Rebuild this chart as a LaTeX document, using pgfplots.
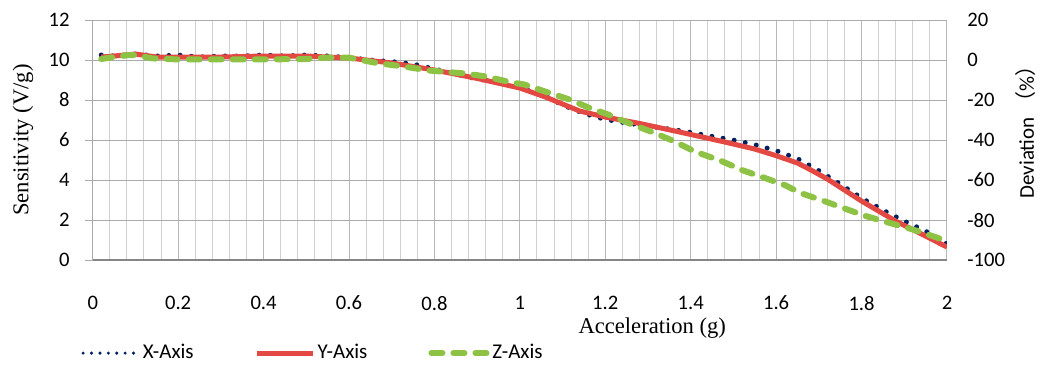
\documentclass[border=0pt]{standalone}
\usepackage{fontspec}
\setmainfont{Carlito}
\newfontfamily\seriffont{Liberation Serif}
\newfontfamily\cjk{Noto Sans CJK SC}
\usepackage{pgfplots}
\pgfplotsset{compat=1.18}
\definecolor{xnavy}{RGB}{0,32,96}
\definecolor{yred}{RGB}{228,72,66}
\definecolor{zgreen}{RGB}{141,194,68}
\definecolor{hgrid}{RGB}{170,170,170}
\definecolor{vgridmaj}{RGB}{185,185,185}
\definecolor{vgridmin}{RGB}{208,208,208}
\definecolor{axgray}{RGB}{134,134,134}
\begin{document}
\begin{tikzpicture}
\begin{axis}[name=ax, scale only axis, width=427pt, height=120pt,
  xmin=0, xmax=2, ymin=0, ymax=12,
  xtick={0,0.2,0.4,0.6,0.8,1,1.2,1.4,1.6,1.8,2},
  minor x tick num=4,
  ytick={0,2,4,6,8,10,12},
  axis lines*=left,
  x axis line style={draw=axgray, line width=0.6pt},
  y axis line style={draw=hgrid, line width=0.5pt},
  xmajorgrids, xminorgrids, ymajorgrids,
  major grid style={draw=vgridmaj, line width=0.5pt},
  minor grid style={draw=vgridmin, line width=0.5pt},
  y grid style={draw=hgrid, line width=0.5pt},
  xtick style={draw=none},
  minor tick style={draw=none},
  ytick style={draw=hgrid, line width=0.5pt},
  tick align=outside, major tick length=4pt,
  /pgf/number format/assume math mode=true,
  ticklabel style={font=\fontsize{10.3}{12}\selectfont},
  xticklabel style={anchor=center, inner sep=0pt, yshift=-17.5pt},
  yticklabel style={anchor=east, inner sep=0pt, xshift=-7.35pt},
  xlabel={Acceleration (g)},
  xlabel style={font=\seriffont\fontsize{11.3}{13}\selectfont, at={(axis description cs:0.655,-0.283)}, anchor=center},
  ylabel={Sensitivity (V/g)},
  ylabel style={font=\seriffont\fontsize{11.3}{13}\selectfont, at={(axis description cs:-0.0816,0.5)}, anchor=center},
  legend style={at={(axis description cs:-0.0207,-0.3875)}, anchor=west, draw=none, fill=none,
    legend columns=3, font=\fontsize{10.5}{12}\selectfont,
    nodes={inner sep=1pt},
    /tikz/every even column/.append style={column sep=29.5pt}},
  legend cell align=left,
  legend image code/.code={\draw[#1] (0pt,0pt) -- (28pt,0pt);},
]
\addplot[xnavy, line width=2.5pt, line cap=round, dash pattern=on 0pt off 5.65pt,
  legend image post style={line width=1.7pt, dash pattern=on 0pt off 4.2pt}] coordinates {
(0.02,10.25) (0.05,10.2) (0.1,10.3) (0.15,10.2) (0.2,10.25) (0.25,10.15) (0.3,10.2) (0.35,10.2) (0.4,10.25) (0.45,10.2) (0.5,10.25) (0.55,10.2) (0.6,10.12) (0.65,10.0) (0.7,9.92) (0.75,9.8) (0.8,9.55) (0.85,9.3) (0.9,9.05) (0.95,8.9) (1.0,8.7) (1.05,8.3) (1.1,7.75) (1.15,7.33) (1.2,7.03) (1.25,6.85) (1.3,6.7) (1.35,6.55) (1.39,6.42) (1.44,6.22) (1.5,6.0) (1.55,5.77) (1.6,5.47) (1.65,5.07) (1.7,4.47) (1.75,3.8) (1.8,3.1) (1.85,2.5) (1.9,1.95) (1.95,1.45) (2.0,0.8)
};
\addlegendentry{X-Axis}
\addplot[yred, line width=2.5pt] coordinates {
(0.02,10.15) (0.05,10.2) (0.1,10.3) (0.15,10.15) (0.2,10.15) (0.3,10.15) (0.4,10.2) (0.5,10.2) (0.6,10.1) (0.7,9.85) (0.8,9.5) (0.9,9.08) (1.0,8.6) (1.06,8.15) (1.1,7.8) (1.14,7.45) (1.2,7.15) (1.28,6.83) (1.37,6.42) (1.48,5.9) (1.55,5.55) (1.6,5.22) (1.65,4.85) (1.68,4.52) (1.72,4.05) (1.76,3.5) (1.8,2.95) (1.88,1.95) (1.95,1.2) (2.0,0.65)
};
\addlegendentry{Y-Axis}
\addplot[zgreen, line width=3pt, line cap=round, dash pattern=on 5.5pt off 5.5pt] coordinates {
(0.02,10.05) (0.05,10.15) (0.085,10.25) (0.1,10.25) (0.14,10.08) (0.2,10.03) (0.3,10.03) (0.4,10.03) (0.5,10.05) (0.55,10.12) (0.6,10.12) (0.67,9.83) (0.72,9.7) (0.79,9.47) (0.87,9.33) (0.92,9.18) (0.98,8.88) (1.01,8.78) (1.06,8.42) (1.12,8.0) (1.16,7.63) (1.21,7.25) (1.26,6.8) (1.31,6.4) (1.36,5.95) (1.41,5.42) (1.47,4.97) (1.52,4.5) (1.57,4.13) (1.62,3.75) (1.66,3.33) (1.71,2.97) (1.76,2.58) (1.81,2.2) (1.87,1.83) (1.92,1.53) (1.97,1.17) (2.0,0.95)
};
\addlegendentry{Z-Axis}
\end{axis}
\begin{axis}[scale only axis, width=427pt, height=120pt,
  xmin=0, xmax=2, ymin=-100, ymax=20,
  axis y line*=right, hide x axis,
  ytick={-100,-80,-60,-40,-20,0,20},
  yticklabels={-100,-80,-60,-40,-20,0,20},
  y axis line style={draw=none}, ytick style={draw=none},
  yticklabel style={anchor=west, inner sep=0pt, xshift=10pt, font=\fontsize{10.3}{12}\selectfont},
  ylabel={Deviation {\cjk （}\%{\cjk ）}},
  ylabel style={font=\fontsize{10.5}{12}\selectfont, at={(axis description cs:1.0925,0.554)}, anchor=center},
]
\end{axis}
\pgfresetboundingbox
\path ([xshift=-46.35pt,yshift=-52.5pt]ax.south west) rectangle ([xshift=46.5pt,yshift=10pt]ax.north east);
\end{tikzpicture}
\end{document}
